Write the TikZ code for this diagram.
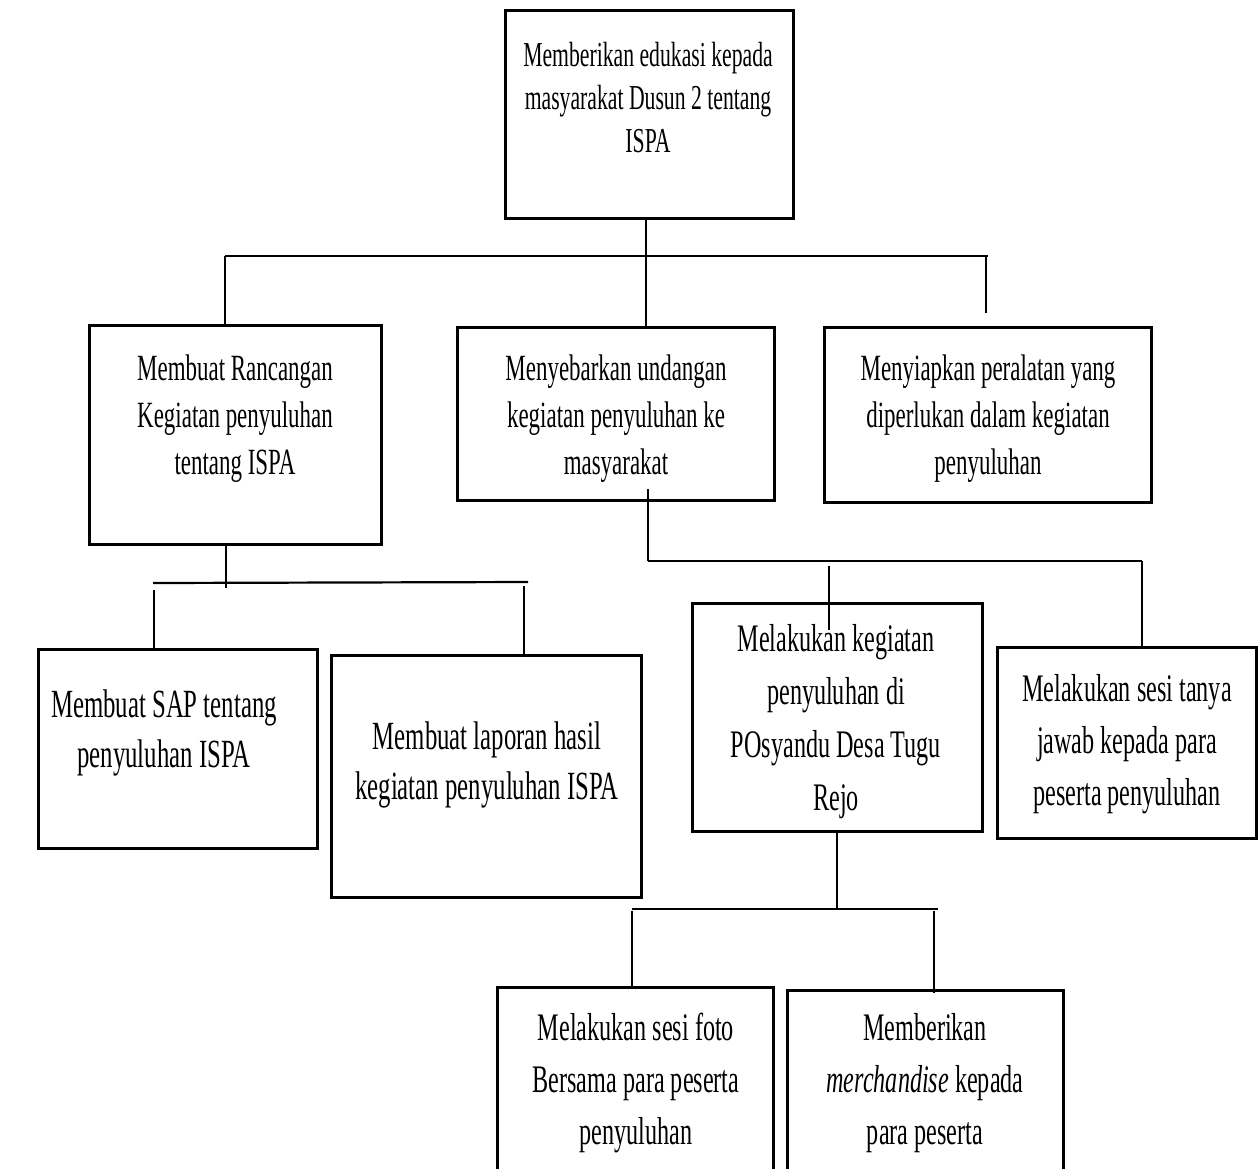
\documentclass[tikz,border=0pt]{standalone}
\usepackage{fontspec}
\setmainfont{Liberation Serif}[FakeStretch=0.62]
\begin{document}
\begin{tikzpicture}[x=1pt,y=-1pt,
  bx/.style={draw, line width=3pt, inner sep=0pt, rectangle},
  txt/.style={align=center, inner sep=0pt},
  fa/.style={font=\fontsize{35}{43}\selectfont},
  fb/.style={font=\fontsize{37}{47}\selectfont},
  fc/.style={font=\fontsize{40}{50}\selectfont},
  fd/.style={font=\fontsize{39}{53}\selectfont},
  fe/.style={font=\fontsize{39}{52}\selectfont},
  cv/.style={line width=1.6pt},
  ch/.style={line width=2.2pt}]
\path[use as bounding box, clip] (0,0) rectangle (1258,1168);
\fill[white] (0,0) rectangle (1258,1168);

% boxes
\node[bx, minimum width=288, minimum height=208] (top) at (649,114) {};
\node[txt, fa] (topt) at (648,98) {Memberikan edukasi kepada\\masyarakat Dusun 2 tentang\\ISPA};

\node[bx, minimum width=292, minimum height=219] (A) at (235,434.5) {};
\node[txt, fb] (At) at (235,419) {Membuat Rancangan\\Kegiatan penyuluhan\\tentang ISPA};

\node[bx, minimum width=317, minimum height=173] (B) at (615.5,413.5) {};
\node[txt, fb] (Bt) at (616,419) {Menyebarkan undangan\\kegiatan penyuluhan ke\\masyarakat};

\node[bx, minimum width=327, minimum height=175] (C) at (987.5,414.5) {};
\node[txt, fb] (Ct) at (988,419) {Menyiapkan peralatan yang\\diperlukan dalam kegiatan\\penyuluhan};

\node[bx, minimum width=279, minimum height=199] (D) at (177.5,748.5) {};
\node[txt, fc] (Dt) at (164,733) {Membuat SAP tentang\\penyuluhan ISPA};

\node[bx, minimum width=310, minimum height=242] (E) at (486,776) {};
\node[txt, fc] (Et) at (487,765) {Membuat laporan hasil\\kegiatan penyuluhan ISPA};

\node[bx, minimum width=290, minimum height=228] (F) at (837,717) {};
\node[txt, fd] (Ft) at (836,722) {Melakukan kegiatan\\penyuluhan di\\POsyandu Desa Tugu\\Rejo};

\node[bx, minimum width=259, minimum height=191] (G) at (1126.5,742.5) {};
\node[txt, fe] (Gt) at (1127,744) {Melakukan sesi tanya\\jawab kepada para\\peserta penyuluhan};

\node[bx, minimum width=276, minimum height=203] (H) at (635,1088.5) {};
\node[txt, fe] (Ht) at (636,1083) {Melakukan sesi foto\\Bersama para peserta\\penyuluhan};

\node[bx, minimum width=276, minimum height=200] (I) at (925,1090) {};
\node[txt, fe] (It) at (925,1083) {Memberikan\\\textit{merchandise} kepada\\para peserta};

% connectors: top level
\coordinate (v0) at (646,256);
\draw[cv] (v0 |- top.south) -- (v0 |- B.north);
\coordinate (h1l) at (225,256);
\coordinate (h1r) at (988,256);
\draw[ch] (h1l) -- (h1r);
\draw[cv] (h1l) -- (h1l |- A.north);
\coordinate (c1) at (986,313);
\draw[cv] (c1 |- h1r) -- (c1);

% under A
\coordinate (a1) at (226,588);
\draw[cv] (a1 |- A.south) -- (a1);
\coordinate (h2l) at (153,583);
\coordinate (h2r) at (528,582);
\draw[ch] (h2l) -- (h2r);
\coordinate (d1) at (154,590);
\draw[cv] (d1) -- (d1 |- D.north);
\coordinate (e1) at (524,586);
\draw[cv] (e1) -- (e1 |- E.north);

% under B
\coordinate (b1) at (648,489);
\coordinate (h3l) at (648,561);
\coordinate (h3r) at (1142,561);
\draw[cv] (b1) -- (h3l);
\draw[ch] (h3l) -- (h3r);
\draw[cv] (h3r) -- (h3r |- G.north);
\coordinate (f0) at (829,566);
\coordinate (f1) at (829,630);
\draw[cv] (f0) -- (f1);

% under F
\coordinate (g1) at (837,909);
\draw[cv] (g1 |- F.south) -- (g1);
\coordinate (h4l) at (632,909);
\coordinate (h4r) at (938,909);
\draw[ch] (h4l) -- (h4r);
\coordinate (hh) at (632,911);
\draw[cv] (hh) -- (hh |- H.north);
\coordinate (ii) at (934,911);
\coordinate (ii2) at (934,993);
\draw[cv] (ii) -- (ii2);
\end{tikzpicture}
\end{document}
